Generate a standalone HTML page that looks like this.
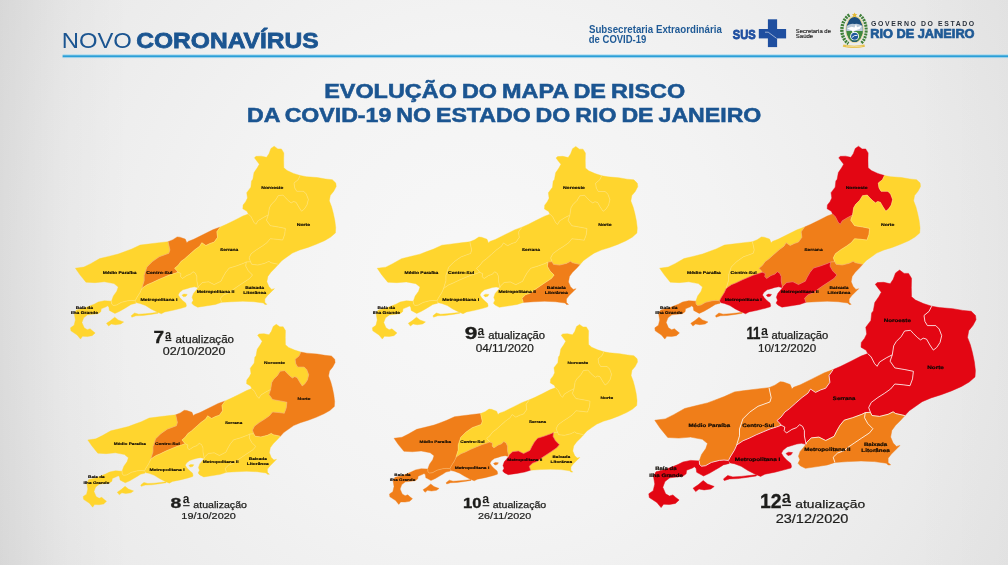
<!DOCTYPE html>
<html lang="pt-BR">
<head>
<meta charset="utf-8">
<title>Evolução do Mapa de Risco da COVID-19 no Estado do Rio de Janeiro</title>
<style>
html,body{margin:0;padding:0;}
body{width:1008px;height:565px;overflow:hidden;background:#ececec;font-family:"Liberation Sans",sans-serif;}
svg{display:block;will-change:transform;}
text{font-family:"Liberation Sans",sans-serif;}
</style>
</head>
<body>
<svg width="1008" height="565" viewBox="0 0 1008 565">
<defs>
<radialGradient id="bg" gradientUnits="userSpaceOnUse" cx="480" cy="282" r="620">
<stop offset="0" stop-color="#f8f8f8"/>
<stop offset="0.4" stop-color="#f3f3f3"/>
<stop offset="0.75" stop-color="#ebebeb"/>
<stop offset="1" stop-color="#e3e3e3"/>
</radialGradient>
<linearGradient id="lft" x1="0" x2="1" y1="0" y2="0"><stop offset="0" stop-color="#000" stop-opacity="0.065"/><stop offset="0.5" stop-color="#000" stop-opacity="0.02"/><stop offset="1" stop-color="#000" stop-opacity="0"/></linearGradient>
<linearGradient id="rgt" x1="1" x2="0" y1="0" y2="0"><stop offset="0" stop-color="#000" stop-opacity="0.012"/><stop offset="1" stop-color="#000" stop-opacity="0"/></linearGradient>
</defs>
<rect width="1008" height="565" fill="url(#bg)"/>
<rect width="130" height="565" fill="url(#lft)"/>
<rect x="908" width="100" height="565" fill="url(#rgt)"/>

<!-- header -->
<text x="61.69" y="47.50" font-size="22.80" textLength="70.14" lengthAdjust="spacingAndGlyphs" fill="#1b5591">NOVO</text>
<text x="136.22" y="47.50" font-size="22.80" textLength="182.49" lengthAdjust="spacingAndGlyphs" font-weight="bold" fill="#1b5591" stroke="#1b5591" stroke-width="0.8">CORONAVÍRUS</text>
<text x="588.96" y="32.60" font-size="10.30" textLength="132.86" lengthAdjust="spacingAndGlyphs" font-weight="bold" fill="#1f5a96">Subsecretaria Extraordinária</text>
<text x="588.82" y="42.90" font-size="10.30" textLength="57.52" lengthAdjust="spacingAndGlyphs" font-weight="bold" fill="#1f5a96">de COVID-19</text>
<text x="732.82" y="38.60" font-size="12.90" textLength="22.99" lengthAdjust="spacingAndGlyphs" font-weight="bold" fill="#1f4fa0" stroke="#1f4fa0" stroke-width="0.8">SUS</text>
<text x="795.73" y="32.50" font-size="5.70" textLength="35.21" lengthAdjust="spacingAndGlyphs" fill="#222" stroke="#222" stroke-width="0.15">Secretaria de</text>
<text x="795.73" y="38.20" font-size="5.70" textLength="17.52" lengthAdjust="spacingAndGlyphs" fill="#222" stroke="#222" stroke-width="0.15">Saúde</text>
<text x="870.17" y="37.50" font-size="12.40" textLength="104.41" lengthAdjust="spacingAndGlyphs" font-weight="bold" fill="#1f5a96" stroke="#1f5a96" stroke-width="0.7">RIO DE JANEIRO</text>
<text x="324.18" y="97.60" font-size="19.40" textLength="361.00" lengthAdjust="spacingAndGlyphs" font-weight="bold" fill="#1b5591" stroke="#1b5591" stroke-width="0.55" word-spacing="-1.2">EVOLUÇÃO DO MAPA DE RISCO</text>
<text x="247.10" y="121.70" font-size="19.40" textLength="514.27" lengthAdjust="spacingAndGlyphs" font-weight="bold" fill="#1b5591" stroke="#1b5591" stroke-width="0.55" word-spacing="-1.2">DA COVID-19 NO ESTADO DO RIO DE JANEIRO</text>
<rect x="62.6" y="54.5" width="945.4" height="1" fill="#8fd6f2"/>
<rect x="62.6" y="55.3" width="945.4" height="2.2" fill="#2a9fd8"/>
<rect x="62.6" y="57.5" width="945.4" height="0.7" fill="#bfe4f4" opacity="0.8"/>

<!-- SUS -->
<g fill="#1f4fa0">
<rect x="758.8" y="29" width="27.3" height="9.4"/>
<rect x="767.9" y="19.3" width="9.2" height="27.8"/>
</g>
<path d="M765 32.2H768.2L776.6 38.4" fill="none" stroke="#e9edf5" stroke-width="0.6"/>
<!-- coat of arms -->
<g>
<clipPath id="shc"><ellipse cx="854.6" cy="29.4" rx="8.2" ry="12.4"/></clipPath>
<path d="M849.5 15C839.5 21 839.5 38 848.5 43.5" fill="none" stroke="#3f7f38" stroke-width="3.4" stroke-dasharray="2 0.9"/>
<path d="M859.7 15C868.2 21 868.2 38 860.7 43.5" fill="none" stroke="#3f7f38" stroke-width="3" stroke-dasharray="2 0.9"/>
<ellipse cx="854.6" cy="29.4" rx="9.3" ry="13.6" fill="#e6d89a"/>
<g clip-path="url(#shc)">
<rect x="845" y="16" width="20" height="28" fill="#1d4f80"/>
<path d="M845 27.5q4.5-5 9.6-3.5q5 -1.5 9.6 3.5v4h-19.2z" fill="#b9c9d8"/>
<rect x="845" y="31" width="20" height="13" fill="#3f8a3c"/>
<path d="M847 28.5l4.5-1.8 3 .8 1.5-3.5 1 3.3 4.8-1.6-2.2 3.3-4.6 1.6-2.4 2-.8-2.2z" fill="#fff"/>
<circle cx="854.6" cy="36.2" r="4.4" fill="#fff"/>
<circle cx="854.6" cy="36.2" r="3.5" fill="#1f5a9c"/>
<path d="M852 37.4q2.6-2.8 5.4-2" stroke="#fff" stroke-width="0.9" fill="none"/>
<rect x="845" y="40.5" width="20" height="4" fill="#1d4f80"/>
</g>
<path d="M854.6 12.4l.8 1.7 1.9.2-1.4 1.3.4 1.9-1.7-1-1.7 1 .4-1.9-1.4-1.3 1.9-.2z" fill="#e3b935"/>
<path d="M843.4 44.6q11.2 2.2 21 0l.6 2.2q-11 2.4-22.2 0z" fill="#e6c04c"/>
<path d="M846 46q8.6 1.4 16.4 0" fill="none" stroke="#fff7d6" stroke-width="0.5"/>
</g>
<text x="871" y="25.7" font-size="6.9" font-weight="bold" fill="#2a323d" textLength="103.2" lengthAdjust="spacing">GOVERNO DO ESTADO</text>
<!-- title -->
<!-- maps -->
<defs>
<path id="r-mp" d="M654.8,420.3 665.3,418.9 673.7,414.7 684.7,408.5 695.7,405.8 707.5,402.9 714.2,400.4 724.3,396.6 734.5,391.9 744.6,390.6 758.1,388.9 769.0,387.7 771.2,397.8 769.9,402.0 758.0,406.3 749.6,412.2 742.9,418.9 739.5,429.0 739.5,435.8 736.5,445.5 734.4,450.2 730.2,457.0 728.5,460.4 724.0,460.0 719.4,460.4 711.4,462.4 705.5,465.7 701.5,466.2 699.5,464.4 699.3,460.9 701.6,454.5 705.8,448.6 707.5,443.5 702.4,439.3 690.6,437.1 678.8,438.1 667.8,437.5 660.2,428.2Z"/>
<path id="r-cs" d="M769.0,387.7 774.9,385.2 780.1,381.8 783.4,382.1 790.1,384.5 792.0,389.0 793.6,387.3 800.4,384.8 812.2,378.9 824.0,373.0 833.2,369.6 829.0,375.5 829.9,382.3 825.7,388.2 820.6,389.9 815.5,392.4 810.5,389.0 807.9,393.2 802.0,397.5 795.3,403.4 789.5,408.6 784.8,412.1 781.2,416.9 777.0,420.5 779.4,422.9 781.2,425.2 776.4,427.0 770.5,428.8 763.3,431.8 756.2,434.8 749.0,438.3 743.1,440.7 737.7,444.3 736.5,445.5 739.5,435.8 739.5,429.0 742.9,418.9 749.6,412.2 758.0,406.3 769.9,402.0 771.2,397.8Z"/>
<path id="r-se" d="M833.2,369.6 840.8,366.3 851.0,361.2 861.1,356.1 867.8,353.6 871.2,357.0 874.6,363.7 877.1,366.3 879.6,362.0 886.4,357.8 892.3,354.8 890.1,361.2 894.8,367.9 904.9,369.6 913.4,371.3 912.5,378.9 910.0,385.7 903.2,384.8 894.8,384.0 890.6,389.0 884.7,393.2 877.9,397.5 871.2,402.5 868.7,407.6 870.4,412.3 865.3,412.6 861.9,414.3 852.6,417.7 844.2,420.2 840.0,425.3 836.6,431.2 834.1,436.3 825.7,440.5 818.9,437.1 811.3,437.9 806.5,442.5 806.0,444.3 805.6,441.9 804.4,436.0 804.4,430.6 802.6,426.4 799.6,424.6 796.7,427.6 791.9,429.4 786.5,433.0 784.2,430.6 784.8,427.0 781.2,425.2 779.4,422.9 777.0,420.5 781.2,416.9 784.8,412.1 789.5,408.6 795.3,403.4 802.0,397.5 807.9,393.2 810.5,389.0 815.5,392.4 820.6,389.9 825.7,388.2 829.9,382.3 829.0,375.5Z"/>
<path id="r-no" d="M867.8,353.6 866.1,350.2 861.0,347.2 861.3,342.5 864.5,338.4 866.7,334.0 865.8,327.3 870.9,320.5 871.7,312.9 873.3,310.9 874.8,302.6 878.8,296.7 881.3,292.2 877.8,287.7 875.3,284.3 877.3,282.6 883.7,282.3 890.2,283.8 893.2,279.3 895.6,272.9 899.6,270.1 904.1,273.4 908.5,273.4 911.5,278.3 911.3,287.7 911.5,296.7 915.5,300.1 923.4,303.6 931.6,306.2 929.1,311.3 924.0,315.5 924.9,321.4 927.4,325.6 935.8,325.6 939.2,329.0 941.7,335.7 940.0,342.5 936.7,347.5 933.3,350.1 929.9,345.0 926.5,339.1 923.2,338.2 920.6,339.9 917.3,337.4 913.1,333.2 910.5,330.3 904.6,331.0 901.2,336.6 896.2,341.6 893.7,345.8 892.3,354.8 886.4,357.8 879.6,362.0 877.1,366.3 874.6,363.7 871.2,357.0Z"/>
<path id="r-nt" d="M931.6,306.2 939.3,307.6 952.7,308.7 962.8,310.4 971.2,311.3 975.5,315.5 976.0,319.7 972.9,325.6 968.7,330.7 967.5,337.4 970.4,345.0 972.4,352.6 974.3,361.6 975.4,370.5 975.0,376.9 969.2,382.0 961.6,386.4 951.4,390.9 941.2,394.7 931.0,397.9 922.1,401.7 915.7,406.2 909.3,410.7 904.9,415.6 895.6,413.5 893.1,411.8 888.1,414.3 879.6,416.4 872.0,415.5 870.4,412.3 868.7,407.6 871.2,402.5 877.9,397.5 884.7,393.2 890.6,389.0 894.8,384.0 903.2,384.8 910.0,385.7 912.5,378.9 913.4,371.3 904.9,369.6 894.8,367.9 890.1,361.2 892.3,354.8 893.7,345.8 896.2,341.6 901.2,336.6 904.6,331.0 910.5,330.3 913.1,333.2 917.3,337.4 920.6,339.9 923.2,338.2 926.5,339.1 929.9,345.0 933.3,350.1 936.7,347.5 940.0,342.5 941.7,335.7 939.2,329.0 935.8,325.6 927.4,325.6 924.9,321.4 924.0,315.5 929.1,311.3Z"/>
<path id="r-ba" d="M865.3,412.6 870.4,412.3 872.0,415.5 879.6,416.4 888.1,414.3 893.1,411.8 895.6,413.5 904.9,415.6 900.7,420.2 895.6,425.3 891.8,430.4 890.6,437.1 893.1,443.0 896.5,446.4 899.9,445.5 896.5,448.9 891.4,454.0 888.1,458.2 888.1,462.4 890.6,464.9 888.1,464.9 886.4,463.2 874.6,461.6 861.1,461.0 847.6,461.6 834.9,462.4 833.2,457.3 837.5,453.1 844.2,450.6 849.3,446.4 854.3,443.0 861.9,437.9 869.5,432.9 872.9,428.7 867.8,423.6 864.5,417.7Z"/>
<path id="r-m2" d="M806.0,444.3 806.5,442.5 811.3,437.9 818.9,437.1 825.7,440.5 834.1,436.3 836.6,431.2 840.0,425.3 844.2,420.2 852.6,417.7 861.9,414.3 865.3,412.6 864.5,417.7 867.8,423.6 872.9,428.7 869.5,432.9 861.9,437.9 854.3,443.0 849.3,446.4 844.2,450.6 837.5,453.1 833.2,457.3 834.9,462.4 827.3,464.9 817.2,466.6 805.4,468.3 800.2,465.7 798.1,463.3 799.9,459.8 798.5,456.2 800.2,451.4 803.2,447.9Z"/>
<path id="r-mi" d="M736.5,445.5 737.7,444.3 743.1,440.7 749.0,438.3 756.2,434.8 763.3,431.8 770.5,428.8 776.4,427.0 781.2,425.2 784.8,427.0 784.2,430.6 786.5,433.0 791.9,429.4 796.7,427.6 799.6,424.6 802.6,426.4 804.4,430.6 804.4,436.0 805.6,441.9 806.0,444.3 801.4,443.3 796.7,444.0 791.9,445.5 787.1,446.9 783.0,450.2 781.4,453.2 783.6,456.8 787.1,460.4 790.7,463.3 791.5,466.3 791.0,467.9 785.1,469.6 774.9,472.2 764.8,474.2 760.6,476.4 754.7,473.9 747.9,470.5 741.2,466.3 734.4,463.7 730.2,462.9 728.5,460.4 730.2,457.0 734.4,450.2ZM786.0,453.5 788.5,452.2 792.5,452.6 791.0,454.8 788.0,455.6Z"/>
<path id="r-ig" d="M699.3,460.9 690.6,460.4 683.0,462.0 677.9,464.6 673.7,466.3 665.3,469.6 656.0,471.8 653.5,476.4 654.8,484.0 653.2,490.7 648.8,493.8 649.3,497.5 656.9,502.5 661.1,507.6 663.6,504.2 669.5,504.5 675.4,503.4 679.1,500.0 675.8,497.5 672.9,494.9 669.5,496.1 665.6,493.8 662.8,487.3 665.0,481.4 669.8,477.8 682.7,476.3 686.1,473.8 686.6,470.3 692.6,467.9 694.4,466.7 696.1,468.4 696.7,472.3 699.5,473.8 703.5,476.0 709.4,473.3 715.4,469.8 719.4,467.4 723.3,464.9 729.3,463.4 728.5,460.4 724.0,460.0 719.4,460.4 711.4,462.4 705.5,465.7 701.5,466.2 699.5,464.4ZM693.1,488.2 698.2,484.8 703.2,480.6 707.5,484.0 714.2,486.5 710.8,489.0 704.1,489.9 699.0,489.0 695.7,491.6ZM723.5,478.9 727.7,475.5 732.8,476.9 741.2,476.4 749.6,475.5 756.4,474.7 756.4,475.9 747.9,477.2 737.8,478.6 729.4,478.9 724.3,480.6Z"/>
<path id="r-borders" d="M769.0,387.7 771.2,397.8 769.9,402.0 758.0,406.3 749.6,412.2 742.9,418.9 739.5,429.0 739.5,435.8 736.5,445.5M736.5,445.5 734.4,450.2 730.2,457.0 728.5,460.4M728.5,460.4 724.0,460.0 719.4,460.4 711.4,462.4 705.5,465.7 701.5,466.2 699.5,464.4 699.3,460.9M736.5,445.5 737.7,444.3 743.1,440.7 749.0,438.3 756.2,434.8 763.3,431.8 770.5,428.8 776.4,427.0 781.2,425.2M781.2,425.2 779.4,422.9 777.0,420.5 781.2,416.9 784.8,412.1 789.5,408.6 795.3,403.4 802.0,397.5 807.9,393.2 810.5,389.0 815.5,392.4 820.6,389.9 825.7,388.2 829.9,382.3 829.0,375.5 833.2,369.6M781.2,425.2 784.8,427.0 784.2,430.6 786.5,433.0 791.9,429.4 796.7,427.6 799.6,424.6 802.6,426.4 804.4,430.6 804.4,436.0 805.6,441.9 806.0,444.3M806.0,444.3 806.5,442.5 811.3,437.9 818.9,437.1 825.7,440.5 834.1,436.3 836.6,431.2 840.0,425.3 844.2,420.2 852.6,417.7 861.9,414.3 865.3,412.6M865.3,412.6 864.5,417.7 867.8,423.6 872.9,428.7 869.5,432.9 861.9,437.9 854.3,443.0 849.3,446.4 844.2,450.6 837.5,453.1 833.2,457.3 834.9,462.4M865.3,412.6 870.4,412.3 872.0,415.5 879.6,416.4 888.1,414.3 893.1,411.8 895.6,413.5 904.9,415.6M870.4,412.3 868.7,407.6 871.2,402.5 877.9,397.5 884.7,393.2 890.6,389.0 894.8,384.0 903.2,384.8 910.0,385.7 912.5,378.9 913.4,371.3 904.9,369.6 894.8,367.9 890.1,361.2 892.3,354.8M867.8,353.6 871.2,357.0 874.6,363.7 877.1,366.3 879.6,362.0 886.4,357.8 892.3,354.8M931.6,306.2 929.1,311.3 924.0,315.5 924.9,321.4 927.4,325.6 935.8,325.6 939.2,329.0 941.7,335.7 940.0,342.5 936.7,347.5 933.3,350.1 929.9,345.0 926.5,339.1 923.2,338.2 920.6,339.9 917.3,337.4 913.1,333.2 910.5,330.3 904.6,331.0 901.2,336.6 896.2,341.6 893.7,345.8 892.3,354.8" fill="none"/>
<g id="r-labels" font-weight="bold" fill="#0d0803" stroke="#0d0803" stroke-width="0.18" text-rendering="geometricPrecision">
<text x="688.50" y="426.90" font-size="4.90" textLength="41.64" lengthAdjust="spacingAndGlyphs" font-weight="bold">Médio Paraíba</text>
<text x="742.15" y="426.90" font-size="4.90" textLength="32.18" lengthAdjust="spacingAndGlyphs" font-weight="bold">Centro-Sul</text>
<text x="734.88" y="460.60" font-size="4.90" textLength="45.52" lengthAdjust="spacingAndGlyphs" font-weight="bold">Metropolitana I</text>
<text x="804.19" y="450.90" font-size="4.90" textLength="46.40" lengthAdjust="spacingAndGlyphs" font-weight="bold">Metropolitana II</text>
<text x="863.90" y="446.40" font-size="4.90" textLength="23.34" lengthAdjust="spacingAndGlyphs" font-weight="bold">Baixada</text>
<text x="861.39" y="452.30" font-size="4.90" textLength="28.35" lengthAdjust="spacingAndGlyphs" font-weight="bold">Litorânea</text>
<text x="832.85" y="399.50" font-size="4.90" textLength="22.60" lengthAdjust="spacingAndGlyphs" font-weight="bold">Serrana</text>
<text x="883.79" y="322.20" font-size="4.90" textLength="27.10" lengthAdjust="spacingAndGlyphs" font-weight="bold">Noroeste</text>
<text x="927.29" y="368.60" font-size="4.90" textLength="16.61" lengthAdjust="spacingAndGlyphs" font-weight="bold">Norte</text>
<text x="655.21" y="470.20" font-size="4.90" textLength="21.34" lengthAdjust="spacingAndGlyphs" font-weight="bold">Baía da</text>
<text x="649.20" y="476.90" font-size="4.90" textLength="33.59" lengthAdjust="spacingAndGlyphs" font-weight="bold">Ilha Grande</text>
</g></defs>
<g transform="translate(-456.3 -73.1) scale(0.812)">
<use href="#r-mp" fill="#FFD52E" stroke="#FFD52E" stroke-width="0.5" stroke-linejoin="round"/>
<use href="#r-cs" fill="#F07E19" stroke="#F07E19" stroke-width="0.5" stroke-linejoin="round"/>
<use href="#r-se" fill="#FFD52E" stroke="#FFD52E" stroke-width="0.5" stroke-linejoin="round"/>
<use href="#r-no" fill="#FFD52E" stroke="#FFD52E" stroke-width="0.5" stroke-linejoin="round"/>
<use href="#r-nt" fill="#FFD52E" stroke="#FFD52E" stroke-width="0.5" stroke-linejoin="round"/>
<use href="#r-ba" fill="#FFD52E" stroke="#FFD52E" stroke-width="0.5" stroke-linejoin="round"/>
<use href="#r-m2" fill="#FFD52E" stroke="#FFD52E" stroke-width="0.5" stroke-linejoin="round"/>
<use href="#r-mi" fill="#FFD52E" stroke="#FFD52E" stroke-width="0.5" stroke-linejoin="round"/>
<use href="#r-ig" fill="#FFD52E" stroke="#FFD52E" stroke-width="0.5" stroke-linejoin="round"/>
<use href="#r-borders" stroke="#fff3c4" stroke-opacity="0.45" stroke-width="0.85" stroke-linejoin="round"/>
<use href="#r-labels"/>
</g>
<g transform="translate(-153.8 -72.6) scale(0.811)">
<use href="#r-mp" fill="#FFD52E" stroke="#FFD52E" stroke-width="0.5" stroke-linejoin="round"/>
<use href="#r-cs" fill="#FFD52E" stroke="#FFD52E" stroke-width="0.5" stroke-linejoin="round"/>
<use href="#r-se" fill="#FFD52E" stroke="#FFD52E" stroke-width="0.5" stroke-linejoin="round"/>
<use href="#r-no" fill="#FFD52E" stroke="#FFD52E" stroke-width="0.5" stroke-linejoin="round"/>
<use href="#r-nt" fill="#FFD52E" stroke="#FFD52E" stroke-width="0.5" stroke-linejoin="round"/>
<use href="#r-ba" fill="#F07E19" stroke="#F07E19" stroke-width="0.5" stroke-linejoin="round"/>
<use href="#r-m2" fill="#FFD52E" stroke="#FFD52E" stroke-width="0.5" stroke-linejoin="round"/>
<use href="#r-mi" fill="#FFD52E" stroke="#FFD52E" stroke-width="0.5" stroke-linejoin="round"/>
<use href="#r-ig" fill="#FFD52E" stroke="#FFD52E" stroke-width="0.5" stroke-linejoin="round"/>
<use href="#r-borders" stroke="#fff3c4" stroke-opacity="0.45" stroke-width="0.85" stroke-linejoin="round"/>
<use href="#r-labels"/>
</g>
<g transform="translate(128.0 -73.1) scale(0.812)">
<use href="#r-mp" fill="#FFD52E" stroke="#FFD52E" stroke-width="0.5" stroke-linejoin="round"/>
<use href="#r-cs" fill="#FFD52E" stroke="#FFD52E" stroke-width="0.5" stroke-linejoin="round"/>
<use href="#r-se" fill="#F07E19" stroke="#F07E19" stroke-width="0.5" stroke-linejoin="round"/>
<use href="#r-no" fill="#E30613" stroke="#E30613" stroke-width="0.5" stroke-linejoin="round"/>
<use href="#r-nt" fill="#FFD52E" stroke="#FFD52E" stroke-width="0.5" stroke-linejoin="round"/>
<use href="#r-ba" fill="#F07E19" stroke="#F07E19" stroke-width="0.5" stroke-linejoin="round"/>
<use href="#r-m2" fill="#E30613" stroke="#E30613" stroke-width="0.5" stroke-linejoin="round"/>
<use href="#r-mi" fill="#E30613" stroke="#E30613" stroke-width="0.5" stroke-linejoin="round"/>
<use href="#r-ig" fill="#F07E19" stroke="#F07E19" stroke-width="0.5" stroke-linejoin="round"/>
<use href="#r-borders" stroke="#fff3c4" stroke-opacity="0.45" stroke-width="0.85" stroke-linejoin="round"/>
<use href="#r-labels"/>
</g>
<g transform="translate(-416.4 116.3) scale(0.770)">
<use href="#r-mp" fill="#FFD52E" stroke="#FFD52E" stroke-width="0.5" stroke-linejoin="round"/>
<use href="#r-cs" fill="#F07E19" stroke="#F07E19" stroke-width="0.5" stroke-linejoin="round"/>
<use href="#r-se" fill="#FFD52E" stroke="#FFD52E" stroke-width="0.5" stroke-linejoin="round"/>
<use href="#r-no" fill="#FFD52E" stroke="#FFD52E" stroke-width="0.5" stroke-linejoin="round"/>
<use href="#r-nt" fill="#F07E19" stroke="#F07E19" stroke-width="0.5" stroke-linejoin="round"/>
<use href="#r-ba" fill="#FFD52E" stroke="#FFD52E" stroke-width="0.5" stroke-linejoin="round"/>
<use href="#r-m2" fill="#FFD52E" stroke="#FFD52E" stroke-width="0.5" stroke-linejoin="round"/>
<use href="#r-mi" fill="#FFD52E" stroke="#FFD52E" stroke-width="0.5" stroke-linejoin="round"/>
<use href="#r-ig" fill="#FFD52E" stroke="#FFD52E" stroke-width="0.5" stroke-linejoin="round"/>
<use href="#r-borders" stroke="#fff3c4" stroke-opacity="0.45" stroke-width="0.85" stroke-linejoin="round"/>
<use href="#r-labels"/>
</g>
<g transform="translate(-102.3 119.7) scale(0.758)">
<use href="#r-mp" fill="#F07E19" stroke="#F07E19" stroke-width="0.5" stroke-linejoin="round"/>
<use href="#r-cs" fill="#FFD52E" stroke="#FFD52E" stroke-width="0.5" stroke-linejoin="round"/>
<use href="#r-se" fill="#FFD52E" stroke="#FFD52E" stroke-width="0.5" stroke-linejoin="round"/>
<use href="#r-no" fill="#FFD52E" stroke="#FFD52E" stroke-width="0.5" stroke-linejoin="round"/>
<use href="#r-nt" fill="#FFD52E" stroke="#FFD52E" stroke-width="0.5" stroke-linejoin="round"/>
<use href="#r-ba" fill="#FFD52E" stroke="#FFD52E" stroke-width="0.5" stroke-linejoin="round"/>
<use href="#r-m2" fill="#E30613" stroke="#E30613" stroke-width="0.5" stroke-linejoin="round"/>
<use href="#r-mi" fill="#F07E19" stroke="#F07E19" stroke-width="0.5" stroke-linejoin="round"/>
<use href="#r-ig" fill="#F07E19" stroke="#F07E19" stroke-width="0.5" stroke-linejoin="round"/>
<use href="#r-borders" stroke="#fff3c4" stroke-opacity="0.45" stroke-width="0.85" stroke-linejoin="round"/>
<use href="#r-labels"/>
</g>
<g transform="translate(0.0 0.0) scale(1.000)">
<use href="#r-mp" fill="#F07E19" stroke="#F07E19" stroke-width="0.5" stroke-linejoin="round"/>
<use href="#r-cs" fill="#F07E19" stroke="#F07E19" stroke-width="0.5" stroke-linejoin="round"/>
<use href="#r-se" fill="#E30613" stroke="#E30613" stroke-width="0.5" stroke-linejoin="round"/>
<use href="#r-no" fill="#E30613" stroke="#E30613" stroke-width="0.5" stroke-linejoin="round"/>
<use href="#r-nt" fill="#E30613" stroke="#E30613" stroke-width="0.5" stroke-linejoin="round"/>
<use href="#r-ba" fill="#F07E19" stroke="#F07E19" stroke-width="0.5" stroke-linejoin="round"/>
<use href="#r-m2" fill="#F07E19" stroke="#F07E19" stroke-width="0.5" stroke-linejoin="round"/>
<use href="#r-mi" fill="#E30613" stroke="#E30613" stroke-width="0.5" stroke-linejoin="round"/>
<use href="#r-ig" fill="#E30613" stroke="#E30613" stroke-width="0.5" stroke-linejoin="round"/>
<use href="#r-borders" stroke="#fff" stroke-opacity="0.8" stroke-width="1.0" stroke-linejoin="round"/>
<use href="#r-labels"/>
</g>

<!-- captions -->
<g fill="#1d1d1b">
<text x="153.54" y="342.50" font-size="15.80" textLength="10.54" lengthAdjust="spacingAndGlyphs" font-weight="bold" stroke="#1d1d1b" stroke-width="0.35">7</text>
<text x="165.06" y="346.64" font-size="21.80" textLength="6.26" lengthAdjust="spacingAndGlyphs" font-weight="bold">ª</text>
<rect x="165.4" y="339.97" width="6.0" height="1.14"/>
<text x="175.64" y="342.50" font-size="10.00" textLength="58.34" lengthAdjust="spacingAndGlyphs" stroke="#1d1d1b" stroke-width="0.25">atualização</text>
<text x="162.86" y="355.00" font-size="10.20" textLength="62.69" lengthAdjust="spacingAndGlyphs" stroke="#1d1d1b" stroke-width="0.2">02/10/2020</text>
<text x="464.72" y="339.20" font-size="15.80" textLength="12.60" lengthAdjust="spacingAndGlyphs" font-weight="bold" stroke="#1d1d1b" stroke-width="0.35">9</text>
<text x="477.53" y="343.34" font-size="21.80" textLength="6.78" lengthAdjust="spacingAndGlyphs" font-weight="bold">ª</text>
<rect x="477.9" y="336.67" width="6.5" height="1.14"/>
<text x="488.15" y="339.20" font-size="10.00" textLength="56.91" lengthAdjust="spacingAndGlyphs" stroke="#1d1d1b" stroke-width="0.25">atualização</text>
<text x="475.69" y="351.70" font-size="10.20" textLength="58.24" lengthAdjust="spacingAndGlyphs" stroke="#1d1d1b" stroke-width="0.2">04/11/2020</text>
<text x="746.40" y="339.20" font-size="15.80" textLength="14.04" lengthAdjust="spacingAndGlyphs" font-weight="bold" stroke="#1d1d1b" stroke-width="0.35">11</text>
<text x="761.12" y="343.34" font-size="21.80" textLength="6.99" lengthAdjust="spacingAndGlyphs" font-weight="bold">ª</text>
<rect x="761.5" y="336.67" width="6.7" height="1.14"/>
<text x="771.45" y="339.20" font-size="10.00" textLength="56.81" lengthAdjust="spacingAndGlyphs" stroke="#1d1d1b" stroke-width="0.25">atualização</text>
<text x="757.93" y="351.70" font-size="10.20" textLength="58.19" lengthAdjust="spacingAndGlyphs" stroke="#1d1d1b" stroke-width="0.2">10/12/2020</text>
<text x="170.52" y="507.50" font-size="14.70" textLength="10.79" lengthAdjust="spacingAndGlyphs" font-weight="bold" stroke="#1d1d1b" stroke-width="0.35">8</text>
<text x="182.73" y="511.35" font-size="20.29" textLength="6.78" lengthAdjust="spacingAndGlyphs" font-weight="bold">ª</text>
<rect x="183.1" y="505.15" width="6.5" height="1.06"/>
<text x="193.38" y="507.50" font-size="9.30" textLength="53.56" lengthAdjust="spacingAndGlyphs" stroke="#1d1d1b" stroke-width="0.25">atualização</text>
<text x="181.38" y="519.00" font-size="9.30" textLength="54.41" lengthAdjust="spacingAndGlyphs" stroke="#1d1d1b" stroke-width="0.2">19/10/2020</text>
<text x="462.90" y="507.50" font-size="14.70" textLength="18.50" lengthAdjust="spacingAndGlyphs" font-weight="bold" stroke="#1d1d1b" stroke-width="0.35">10</text>
<text x="482.22" y="511.35" font-size="20.29" textLength="6.99" lengthAdjust="spacingAndGlyphs" font-weight="bold">ª</text>
<rect x="482.6" y="505.15" width="6.7" height="1.06"/>
<text x="492.68" y="507.50" font-size="9.30" textLength="53.56" lengthAdjust="spacingAndGlyphs" stroke="#1d1d1b" stroke-width="0.25">atualização</text>
<text x="477.96" y="519.00" font-size="9.30" textLength="53.23" lengthAdjust="spacingAndGlyphs" stroke="#1d1d1b" stroke-width="0.2">26/11/2020</text>
<text x="759.94" y="507.80" font-size="19.80" textLength="21.56" lengthAdjust="spacingAndGlyphs" font-weight="bold" stroke="#1d1d1b" stroke-width="0.35">12</text>
<text x="781.70" y="512.99" font-size="27.32" textLength="9.17" lengthAdjust="spacingAndGlyphs" font-weight="bold">ª</text>
<rect x="782.2" y="504.63" width="8.8" height="1.43"/>
<text x="795.25" y="507.80" font-size="11.40" textLength="69.92" lengthAdjust="spacingAndGlyphs" stroke="#1d1d1b" stroke-width="0.25">atualização</text>
<text x="775.67" y="523.00" font-size="12.00" textLength="72.75" lengthAdjust="spacingAndGlyphs" stroke="#1d1d1b" stroke-width="0.2">23/12/2020</text>
</g>
</svg>
</body>
</html>
